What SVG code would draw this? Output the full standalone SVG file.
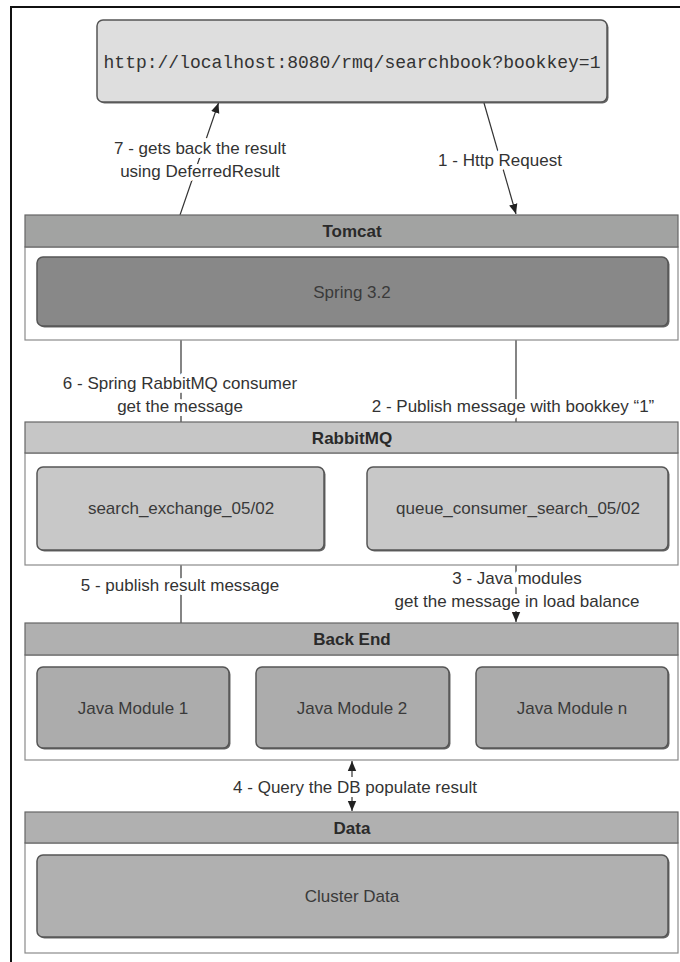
<svg xmlns="http://www.w3.org/2000/svg" width="680" height="962" viewBox="0 0 680 962">
<defs>
<marker id="ah" viewBox="0 0 10 10" refX="10" refY="5" markerWidth="10" markerHeight="10" markerUnits="userSpaceOnUse" orient="auto-start-reverse">
<path d="M0,0.8 L10,5 L0,9.2 Z" fill="#222"/>
</marker>
<style>
.hdr{stroke:#666;stroke-width:1.2}
.cont{fill:#fff;stroke:#8a8a8a;stroke-width:1.2}
.box{stroke:#555;stroke-width:1.5}
.sh{fill:#666;stroke:none}
.ht{font-family:"Liberation Sans",Arial,sans-serif;font-weight:bold;font-size:17px;fill:#2a2a2a;text-anchor:middle}
.bt{font-family:"Liberation Sans",Arial,sans-serif;font-size:17px;fill:#3a3a3a;text-anchor:middle}
.lt{font-family:"Liberation Sans",Arial,sans-serif;font-size:17px;fill:#333;text-anchor:middle;paint-order:stroke;stroke:#fff;stroke-width:8;stroke-linejoin:round}
.con{stroke:#333;stroke-width:1.2;fill:none}
</style>
</defs>
<rect x="11" y="7" width="690" height="970" fill="#fff" stroke="#111" stroke-width="2"/>

<g id="url">
<rect class="sh" x="98.5" y="21.5" width="510" height="82" rx="6"/>
<rect x="97" y="20" width="510" height="82" rx="6" fill="#dedede" stroke="#555" stroke-width="1.5"/>
<text x="352" y="68" font-family="Liberation Mono,Courier New,monospace" font-size="18" fill="#333" text-anchor="middle">http://localhost:8080/rmq/searchbook?bookkey=1</text>
</g>

<g id="connectors">
<line class="con" x1="180" y1="215" x2="218.5" y2="103" marker-end="url(#ah)"/>
<line class="con" x1="484" y1="103" x2="516" y2="214" marker-end="url(#ah)"/>
<line class="con" x1="181" y1="467" x2="181" y2="327" marker-end="url(#ah)"/>
<line class="con" x1="516" y1="340" x2="516" y2="466" marker-end="url(#ah)"/>
<line class="con" x1="181" y1="623" x2="181" y2="551" marker-end="url(#ah)"/>
<line class="con" x1="516" y1="550" x2="516" y2="622" marker-end="url(#ah)"/>
<line class="con" x1="352" y1="761" x2="352" y2="811" marker-start="url(#ah)" marker-end="url(#ah)"/>
</g>

<g id="labels">
<text class="lt" x="200" y="154">7 - gets back the result</text>
<text class="lt" x="200" y="177">using DeferredResult</text>
<text class="lt" x="500" y="166">1 - Http Request</text>
<text class="lt" x="180" y="389">6 - Spring RabbitMQ consumer</text>
<text class="lt" x="180" y="412">get the message</text>
<text class="lt" x="513" y="412">2 - Publish message with bookkey “1”</text>
<text class="lt" x="180" y="591">5 - publish result message</text>
<text class="lt" x="517" y="584">3 - Java modules</text>
<text class="lt" x="517" y="607">get the message in load balance</text>
<text class="lt" x="355" y="793">4 - Query the DB populate result</text>
</g>

<g id="tomcat">
<rect class="cont" x="25" y="247" width="653" height="93"/>
<rect class="hdr" x="25" y="215" width="653" height="32" fill="#a2a3a2"/>
<text class="ht" x="352" y="237">Tomcat</text>
</g>
<g id="spring">
<rect class="sh" x="38.5" y="258.5" width="631" height="69" rx="6"/>
<rect class="box" x="37" y="257" width="631" height="69" rx="6" fill="#888"/>
<text class="bt" x="352" y="298">Spring 3.2</text>
</g>

<g id="rabbitmq">
<rect class="cont" x="25" y="453" width="653" height="112"/>
<rect class="hdr" x="25" y="422" width="653" height="31" fill="#c6c6c6"/>
<text class="ht" x="352" y="444">RabbitMQ</text>
</g>
<g id="search_exchange">
<rect class="sh" x="38.5" y="468.5" width="287" height="83" rx="6"/>
<rect class="box" x="37" y="467" width="287" height="83" rx="6" fill="#c8c8c8"/>
<text class="bt" x="181" y="514">search_exchange_05/02</text>
</g>
<g id="queue_consumer">
<rect class="sh" x="368.5" y="468.5" width="301" height="83" rx="6"/>
<rect class="box" x="367" y="467" width="301" height="83" rx="6" fill="#c8c8c8"/>
<text class="bt" x="518" y="514">queue_consumer_search_05/02</text>
</g>

<g id="backend">
<rect class="cont" x="25" y="655" width="653" height="105"/>
<rect class="hdr" x="25" y="623" width="653" height="32" fill="#b0b0b0"/>
<text class="ht" x="352" y="645">Back End</text>
</g>
<g id="module1">
<rect class="sh" x="38.5" y="668.5" width="192" height="81" rx="6"/>
<rect class="box" x="37" y="667" width="192" height="81" rx="6" fill="#acacac"/>
<text class="bt" x="133" y="714">Java Module 1</text>
</g>
<g id="module2">
<rect class="sh" x="257.5" y="668.5" width="193" height="81" rx="6"/>
<rect class="box" x="256" y="667" width="193" height="81" rx="6" fill="#acacac"/>
<text class="bt" x="352" y="714">Java Module 2</text>
</g>
<g id="modulen">
<rect class="sh" x="477.5" y="668.5" width="192" height="81" rx="6"/>
<rect class="box" x="476" y="667" width="192" height="81" rx="6" fill="#acacac"/>
<text class="bt" x="572" y="714">Java Module n</text>
</g>

<g id="data">
<rect class="cont" x="25" y="843" width="653" height="110"/>
<rect class="hdr" x="25" y="812" width="653" height="31" fill="#b0b0b0"/>
<text class="ht" x="352" y="834">Data</text>
</g>
<g id="cluster">
<rect class="sh" x="38.5" y="856.5" width="631" height="82" rx="6"/>
<rect class="box" x="37" y="855" width="631" height="82" rx="6" fill="#b0b0b0"/>
<text class="bt" x="352" y="902">Cluster Data</text>
</g>
</svg>
